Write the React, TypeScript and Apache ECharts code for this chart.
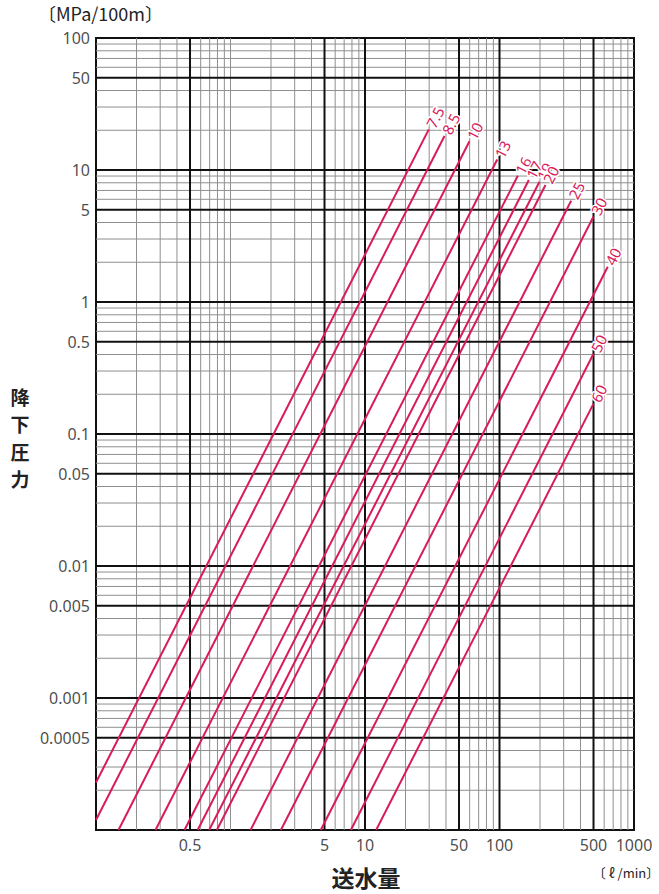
import React, { useEffect, useRef } from 'react';
import * as echarts from 'echarts';

// Pipe size labels (mm) and the end points of each loss line
const DIAMETERS = ['7.5', '8.5', '10', '13', '16', '17', '19', '20', '25', '30', '40', '50', '60'];
const FLOW_START = [0.1, 0.1, 0.147, 0.277, 0.455, 0.57, 0.694, 0.792, 1.41, 2.37, 4.69, 7.85, 12.1];
const LOSS_START = [0.000229, 0.000119, 0.0001, 0.0001, 0.0001, 0.0001, 0.0001, 0.0001, 0.0001, 0.0001, 0.0001, 0.0001, 0.0001];
const FLOW_END = [29.8, 39.0, 59.8, 96.2, 136.8, 165.2, 198.2, 219.8, 341, 500, 638, 500, 500];
const LOSS_END = [20.3, 18.1, 16.5, 12.0, 9.04, 8.39, 8.15, 7.69, 5.85, 4.44, 1.85, 0.406, 0.17];

// Axis tick values / labels
const X_MAJOR = [0.5, 5, 10, 50, 100, 500];
const X_LABEL_VALUES = [0.5, 5, 10, 50, 100, 500, 1000];
const X_LABELS = ['0.5', '5', '10', '50', '100', '500', '1000'];
const X_MINOR = [0.2, 0.3, 0.4, 0.6, 0.7, 0.8, 0.9, 1, 2, 3, 4, 6, 7, 8, 9, 20, 30, 40, 60, 70, 80, 90, 200, 300, 400, 600, 700, 800, 900];
const Y_MAJOR = [50, 10, 5, 1, 0.5, 0.1, 0.05, 0.01, 0.005, 0.001, 0.0005];
const Y_LABEL_VALUES = [100, 50, 10, 5, 1, 0.5, 0.1, 0.05, 0.01, 0.005, 0.001, 0.0005];
const Y_LABELS = ['100', '50', '10', '5', '1', '0.5', '0.1', '0.05', '0.01', '0.005', '0.001', '0.0005'];
const Y_DECADES = [0.0001, 0.001, 0.01, 0.1, 1, 10];
const MINOR_MULT = [2, 3, 4, 6, 7, 8, 9];
const Y_TITLE = ['降', '下', '圧', '力'];

const X_MIN = 0.1;
const X_MAX = 1000;
const Y_MIN = 0.0001;
const Y_MAX = 100;

const RED = '#d81b5b';
const FONT = '"Noto Sans", "Noto Sans CJK JP", sans-serif';
const CJK = '"Noto Sans CJK JP", "Noto Sans", sans-serif';

export default function App() {
  const ref = useRef<HTMLDivElement>(null);
  useEffect(() => {
    document.body.style.margin = '0';
    const chart = echarts.init(ref.current!, null, { renderer: 'svg' });

    const minorStyle = { color: '#8f8f8f', width: 1, type: 'solid' as const };
    const majorStyle = { color: '#111', width: 2, type: 'solid' as const };
    const tickLabel = { fontSize: 16, color: '#1a1a1a', fontFamily: FONT };

    const yMinor: number[] = [];
    Y_DECADES.forEach((d) => MINOR_MULT.forEach((m) => yMinor.push(+(d * m).toPrecision(3))));

    const gridSeries: any[] = [];
    const addLine = (pts: number[][], style: any, z: number) =>
      gridSeries.push({
        type: 'line',
        z,
        silent: true,
        symbol: 'none',
        lineStyle: style,
        emphasis: { disabled: true },
        data: pts,
      });
    X_MINOR.forEach((v) => addLine([[v, Y_MIN], [v, Y_MAX]], minorStyle, 1));
    yMinor.forEach((v) => addLine([[X_MIN, v], [X_MAX, v]], minorStyle, 1));
    X_MAJOR.forEach((v) => addLine([[v, Y_MIN], [v, Y_MAX]], majorStyle, 2));
    Y_MAJOR.forEach((v) => addLine([[X_MIN, v], [X_MAX, v]], majorStyle, 2));

    const labelSeries = [
      {
        type: 'scatter',
        z: 3,
        silent: true,
        symbolSize: 0,
        itemStyle: { color: 'transparent' },
        label: {
          show: true,
          position: 'bottom',
          distance: 7,
          formatter: (p: any) => X_LABELS[p.dataIndex],
          ...tickLabel,
        },
        data: X_LABEL_VALUES.map((v) => [v, Y_MIN]),
      },
      {
        type: 'scatter',
        z: 3,
        silent: true,
        symbolSize: 0,
        itemStyle: { color: 'transparent' },
        label: {
          show: true,
          position: 'left',
          distance: 6,
          formatter: (p: any) => Y_LABELS[p.dataIndex],
          ...tickLabel,
        },
        data: Y_LABEL_VALUES.map((v) => [X_MIN, v]),
      },
    ];

    const lineSeries = DIAMETERS.map((d, i) => ({
      type: 'line',
      name: d,
      z: 5,
      symbol: 'circle',
      symbolSize: 0,
      showSymbol: true,
      lineStyle: { color: RED, width: 2 },
      itemStyle: { color: RED },
      label: { show: false },
      emphasis: { disabled: true },
      data: [
        [FLOW_START[i], LOSS_START[i]],
        {
          value: [FLOW_END[i], LOSS_END[i]],
          label: {
            show: true,
            formatter: d,
            position: [0, 0],
            align: 'left',
            verticalAlign: 'middle',
            rotate: 63,
            padding: [0, 0, 0, 3],
            color: RED,
            fontSize: 15,
            fontFamily: FONT,
            textBorderColor: '#fff',
            textBorderWidth: 3,
          },
        },
      ],
    }));

    const yTitle = Y_TITLE.map((ch, i) => ({
      type: 'text',
      x: 20,
      y: 396 + i * 27.5,
      style: {
        text: ch,
        fontSize: 19,
        fontWeight: 'bold',
        fill: '#222',
        align: 'center',
        verticalAlign: 'middle',
        fontFamily: CJK,
      },
    }));

    chart.setOption({
      animation: false,
      grid: {
        left: 96,
        top: 38,
        width: 538,
        height: 792,
        show: true,
        borderColor: '#111',
        borderWidth: 2,
        backgroundColor: 'transparent',
      },
      xAxis: {
        type: 'log',
        logBase: 10,
        min: X_MIN,
        max: X_MAX,
        axisLine: { show: false },
        axisTick: { show: false },
        axisLabel: { show: false },
        splitLine: { show: false },
      },
      yAxis: {
        type: 'log',
        logBase: 10,
        min: Y_MIN,
        max: Y_MAX,
        axisLine: { show: false },
        axisTick: { show: false },
        axisLabel: { show: false },
        splitLine: { show: false },
      },
      graphic: [
        { type: 'text', left: 38, top: 4, style: { text: '〔MPa/100m〕', fontSize: 18, fill: '#222', fontFamily: CJK } },
        ...yTitle,
        {
          type: 'text',
          x: 366,
          y: 877,
          style: { text: '送水量', fontSize: 23, fontWeight: 'bold', fill: '#222', align: 'center', verticalAlign: 'middle', fontFamily: CJK },
        },
        {
          type: 'text',
          x: 626,
          y: 872,
          style: { text: '〔 ℓ /min〕', fontSize: 13, fill: '#222', align: 'center', verticalAlign: 'middle', fontFamily: CJK },
        },
      ],
      series: [...gridSeries, ...labelSeries, ...lineSeries],
    });
    return () => chart.dispose();
  }, []);
  return <div ref={ref} style={{ position: 'absolute', left: 0, top: 0, width: 659, height: 894 }} />;
}
